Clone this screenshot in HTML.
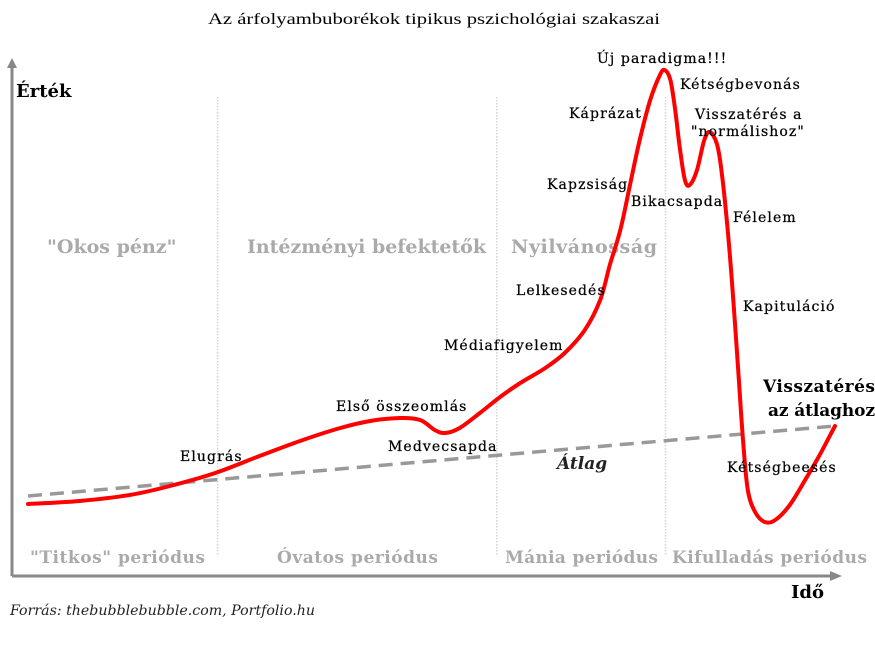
<!DOCTYPE html>
<html><head><meta charset="utf-8">
<style>
html,body{margin:0;padding:0;background:#fff;}
svg{display:block;}
.lbl{font-family:"DejaVu Serif","Liberation Serif",serif;font-size:14px;letter-spacing:1.1px;fill:#000;stroke:#000;stroke-width:0.25;}
.per{font-family:"DejaVu Serif","Liberation Serif",serif;font-size:17px;font-weight:bold;fill:#aaa;}
.big{font-family:"DejaVu Serif","Liberation Serif",serif;font-size:19px;font-weight:bold;fill:#aaa;}
</style></head>
<body>
<svg id="chart" width="875" height="655" viewBox="0 0 875 655">
<text x="208" y="24" font-family="'Liberation Serif',serif" font-size="16" textLength="452" lengthAdjust="spacingAndGlyphs">Az árfolyambuborékok tipikus pszichológiai szakaszai</text>
<g id="dividers"></g>
<line x1="12" y1="576" x2="12" y2="66" stroke="#888" stroke-width="3"/>
<polygon points="12,58 7,68 17,68" fill="#888"/>
<line x1="12" y1="576" x2="832" y2="576" stroke="#888" stroke-width="3"/>
<polygon points="842,576 830,571 830,581" fill="#888"/>
<text x="16" y="97" font-family="'DejaVu Serif',serif" font-size="18" font-weight="bold">Érték</text>
<text x="791" y="598" font-family="'DejaVu Serif',serif" font-size="18" font-weight="bold">Idő</text>
<text x="10" y="615" font-family="'DejaVu Serif',serif" font-size="14" font-style="italic" fill="#222" textLength="305" lengthAdjust="spacingAndGlyphs">Forrás: thebubblebubble.com, Portfolio.hu</text>

<text class="big" x="47" y="253">"Okos pénz"</text>
<text class="big" x="247" y="253" textLength="239">Intézményi befektetők</text>
<text class="big" x="511" y="253" textLength="146">Nyilvánosság</text>

<text class="per" x="30" y="563" textLength="175">"Titkos" periódus</text>
<text class="per" x="277" y="563" textLength="161">Óvatos periódus</text>
<text class="per" x="505" y="563" textLength="153">Mánia periódus</text>
<text class="per" x="672" y="563" textLength="195">Kifulladás periódus</text>

<g id="series"></g>

<text class="lbl" x="180" y="461">Elugrás</text>
<text class="lbl" x="336" y="411">Első összeomlás</text>
<text class="lbl" x="388" y="451">Medvecsapda</text>
<text class="lbl" x="444" y="350">Médiafigyelem</text>
<text class="lbl" x="516" y="295">Lelkesedés</text>
<text class="lbl" x="547" y="189">Kapzsiság</text>
<text class="lbl" x="569" y="118">Káprázat</text>
<text class="lbl" x="597" y="63">Új paradigma!!!</text>
<text class="lbl" x="680" y="89">Kétségbevonás</text>
<text class="lbl" x="695" y="119">Visszatérés a</text>
<text class="lbl" x="691" y="136">"normálishoz"</text>
<text class="lbl" x="631" y="206">Bikacsapda</text>
<text class="lbl" x="733" y="222">Félelem</text>
<text class="lbl" x="743" y="311">Kapituláció</text>
<text class="lbl" x="727" y="472">Kétségbeesés</text>
<text x="763" y="392" font-family="'DejaVu Serif',serif" font-size="17" font-weight="bold" textLength="112">Visszatérés</text>
<text x="768" y="416" font-family="'DejaVu Serif',serif" font-size="17" font-weight="bold" textLength="107">az átlaghoz</text>
<text x="557" y="469" font-family="'DejaVu Serif',serif" font-size="17" font-weight="bold" font-style="italic" fill="#222">Átlag</text>
</svg>
<script>
const dividerTimes = [23.5, 58.1, 79.0];
const priceTimes = [0,6.4,12.6,17.6,23.2,28.7,33.7,38.7,42.4,46.1,48.6,50.4,51.7,53.5,56.0,58.5,61.0,64.1,66.5,69.0,70.9,72.1,73.4,74.6,75.8,77.1,78.3,78.9,79.6,80.2,80.8,81.4,82.0,82.9,83.8,84.5,85.4,86.0,86.7,87.4,88.0,88.6,89.2,90.1,91.3,92.6,94.4,96.3,98.1,100];
const priceValues = [14.2,14.8,16,17.8,20.4,23.8,26.8,29.4,30.8,31.4,31,29,28.4,29.4,32.4,35.6,38.4,41.4,44.4,49,55,62,69,78,87,95,100,101,99,93,85,79,78,81,87,88.6,86,80,69,55,41,27,17,12.6,10.6,11,14,19,24,29.8];
const averageTimes = [0, 100];
const averageValues = [15.8, 29.8];

const NS = 'http://www.w3.org/2000/svg';
function xs(t){ return 28 + t * 8.07; }
function ys(v){ return 575 - v * 5; }

function smoothPath(ts, vs){
  const p = ts.map((t,i)=>[xs(t), ys(vs[i])]);
  let d = 'M' + p[0][0].toFixed(1) + ',' + p[0][1].toFixed(1);
  for (let i=0;i<p.length-1;i++){
    const p0 = p[i-1]||p[i], p1=p[i], p2=p[i+1], p3=p[i+2]||p[i+1];
    const c1x = p1[0]+(p2[0]-p0[0])/6, c1y = p1[1]+(p2[1]-p0[1])/6;
    const c2x = p2[0]-(p3[0]-p1[0])/6, c2y = p2[1]-(p3[1]-p1[1])/6;
    d += ' C'+c1x.toFixed(1)+','+c1y.toFixed(1)+' '+c2x.toFixed(1)+','+c2y.toFixed(1)+' '+p2[0].toFixed(1)+','+p2[1].toFixed(1);
  }
  return d;
}

const dv = document.getElementById('dividers');
dividerTimes.forEach(t=>{
  const l = document.createElementNS(NS,'line');
  l.setAttribute('x1', xs(t)); l.setAttribute('x2', xs(t));
  l.setAttribute('y1', 97); l.setAttribute('y2', 555);
  l.setAttribute('stroke', '#cfd6da'); l.setAttribute('stroke-width', 1.5);
  l.setAttribute('stroke-dasharray', '1.5 1.5');
  
  
  dv.appendChild(l);
});

const g = document.getElementById('series');
const avg = document.createElementNS(NS,'path');
avg.setAttribute('d', 'M'+xs(averageTimes[0])+','+ys(averageValues[0])+' L'+xs(averageTimes[1])+','+ys(averageValues[1]));
avg.setAttribute('stroke', '#999'); avg.setAttribute('stroke-width', 3.5);
avg.setAttribute('stroke-dasharray', '14 8'); avg.setAttribute('fill', 'none');


g.appendChild(avg);

const price = document.createElementNS(NS,'path');
price.setAttribute('d', smoothPath(priceTimes, priceValues));
price.setAttribute('stroke', '#ff0000'); price.setAttribute('stroke-width', 4);
price.setAttribute('fill', 'none'); price.setAttribute('stroke-linejoin', 'round'); price.setAttribute('stroke-linecap', 'round');


g.appendChild(price);
</script>
</body></html>
